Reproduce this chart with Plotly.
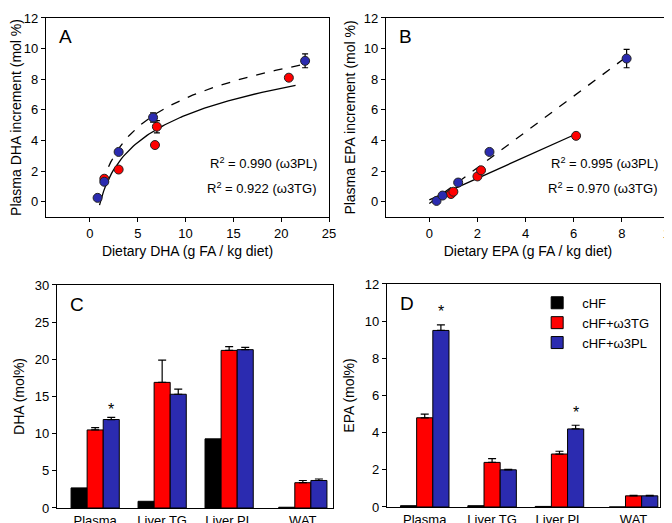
import numpy as np
import plotly.graph_objects as go

# Panel A: dietary DHA vs plasma DHA increment
dha_pl_x = [0.8, 1.5, 3.0, 6.6, 22.5]
dha_pl_y = [0.25, 1.3, 3.25, 5.5, 9.2]
dha_pl_err = [0.1, 0.15, 0.15, 0.3, 0.45]
dha_tg_x = [1.5, 3.0, 6.8, 7.0, 20.8]
dha_tg_y = [1.5, 2.1, 3.7, 4.9, 8.1]
dha_tg_err = [0.15, 0.1, 0.1, 0.4, 0.15]

# Panel B: dietary EPA vs plasma EPA increment
epa_pl_x = [0.3, 0.55, 1.2, 2.5, 8.2]
epa_pl_y = [0.05, 0.4, 1.25, 3.25, 9.35]
epa_pl_err = [0.05, 0.05, 0.1, 0.1, 0.6]
epa_tg_x = [0.9, 1.0, 2.0, 2.15, 6.1]
epa_tg_y = [0.5, 0.65, 1.65, 2.05, 4.3]
epa_tg_err = [0.05, 0.05, 0.1, 0.1, 0.1]

# Panels C and D: bars
tissues = ["Plasma", "Liver TG", "Liver PL", "WAT"]
tissue_pos = [0, 1, 2, 3.1]
dha_chf = [2.7, 0.9, 9.3, 0.1]
dha_tg = [10.5, 16.9, 21.2, 3.4]
dha_tg_se = [0.3, 3.0, 0.5, 0.3]
dha_plb = [11.9, 15.3, 21.3, 3.7]
dha_plb_se = [0.3, 0.7, 0.3, 0.2]
epa_chf = [0.07, 0.07, 0.03, 0.0]
epa_tg = [4.8, 2.4, 2.85, 0.6]
epa_tg_se = [0.2, 0.2, 0.15, 0.03]
epa_plb = [9.5, 2.0, 4.2, 0.6]
epa_plb_se = [0.3, 0.03, 0.2, 0.03]

RED = "#ff0000"
BLUE = "#2b2bb0"
FONT = "Liberation Sans, Arial, sans-serif"

fig = go.Figure()


def marker(color):
    return dict(color=color, size=9, line=dict(color="#222", width=1))


def err(vals):
    return dict(type="data", array=vals, color="black", thickness=1.2, width=3)


# A: log fits
for xs, ys, dash, x0, x1 in [(dha_pl_x, dha_pl_y, "dash", 1.3, 22.5),
                              (dha_tg_x, dha_tg_y, "solid", 1.0, 21.5)]:
    a, b = np.polyfit(np.log(xs), ys, 1)
    xf = np.linspace(x0, x1, 100)
    fig.add_trace(go.Scatter(x=xf, y=a * np.log(xf) + b, mode="lines",
                             line=dict(color="black", width=1.3, dash=dash),
                             xaxis="x", yaxis="y", showlegend=False))
fig.add_trace(go.Scatter(x=dha_tg_x, y=dha_tg_y, mode="markers", marker=marker(RED),
                         error_y=err(dha_tg_err), xaxis="x", yaxis="y", showlegend=False))
fig.add_trace(go.Scatter(x=dha_pl_x, y=dha_pl_y, mode="markers", marker=marker(BLUE),
                         error_y=err(dha_pl_err), xaxis="x", yaxis="y", showlegend=False))

# B: linear fits
for xs, ys, dash, x0, x1 in [(epa_pl_x, epa_pl_y, "dash", 0.0, 8.2),
                              (epa_tg_x, epa_tg_y, "solid", 0.0, 6.1)]:
    a, b = np.polyfit(xs, ys, 1)
    xf = np.array([x0, x1])
    fig.add_trace(go.Scatter(x=xf, y=a * xf + b, mode="lines",
                             line=dict(color="black", width=1.3, dash=dash),
                             xaxis="x2", yaxis="y2", showlegend=False))
fig.add_trace(go.Scatter(x=epa_tg_x, y=epa_tg_y, mode="markers", marker=marker(RED),
                         error_y=err(epa_tg_err), xaxis="x2", yaxis="y2", showlegend=False))
fig.add_trace(go.Scatter(x=epa_pl_x, y=epa_pl_y, mode="markers", marker=marker(BLUE),
                         error_y=err(epa_pl_err), xaxis="x2", yaxis="y2", showlegend=False))


def bar_err(vals):
    return dict(type="data", array=vals, arrayminus=[0] * len(vals),
                color="black", thickness=1.2, width=4)


for xa, ya, chf, tg, tg_se, pl, pl_se, leg in [
        ("x3", "y3", dha_chf, dha_tg, dha_tg_se, dha_plb, dha_plb_se, False),
        ("x4", "y4", epa_chf, epa_tg, epa_tg_se, epa_plb, epa_plb_se, True)]:
    fig.add_trace(go.Bar(x=tissue_pos, y=chf, name="cHF", marker=dict(color="black", line=dict(color="black", width=1)),
                         xaxis=xa, yaxis=ya, showlegend=leg, offsetgroup="a"))
    fig.add_trace(go.Bar(x=tissue_pos, y=tg, name="cHF+ω3TG", error_y=bar_err(tg_se),
                         marker=dict(color=RED, line=dict(color="black", width=1)),
                         xaxis=xa, yaxis=ya, showlegend=leg, offsetgroup="b"))
    fig.add_trace(go.Bar(x=tissue_pos, y=pl, name="cHF+ω3PL", error_y=bar_err(pl_se),
                         marker=dict(color=BLUE, line=dict(color="black", width=1)),
                         xaxis=xa, yaxis=ya, showlegend=leg, offsetgroup="c"))

axis_style = dict(showline=True, linecolor="black", linewidth=1.2, mirror=True,
                  ticks="outside", ticklen=4, tickcolor="black", showgrid=False,
                  zeroline=False, automargin=False, tickfont=dict(size=13, color="black"))
title_font = dict(size=14, color="black")

fig.update_layout(
    width=672, height=523, margin=dict(l=0, r=0, t=0, b=0),
    plot_bgcolor="white", paper_bgcolor="white",
    font=dict(family=FONT, color="black"),
    barmode="group", bargap=0.28, bargroupgap=0,
    xaxis=dict(axis_style, domain=[0.0565, 0.4777], range=[-4.6, 25], tickvals=[0, 5, 10, 15, 20, 25],
               title=dict(text="Dietary DHA (g FA / kg diet)", font=title_font, standoff=6), anchor="y"),
    yaxis=dict(axis_style, domain=[0.6004, 0.9809], range=[-1, 12], tickvals=[0, 2, 4, 6, 8, 10, 12],
               title=dict(text="Plasma DHA increment (mol %)", font=title_font, standoff=4), anchor="x"),
    xaxis2=dict(axis_style, domain=[0.5625, 0.985], range=[-1.8, 10], tickvals=[0, 2, 4, 6, 8, 10],
                title=dict(text="Dietary EPA (g FA / kg diet)", font=title_font, standoff=6), anchor="y2"),
    yaxis2=dict(axis_style, domain=[0.6004, 0.9809], range=[-1, 12], tickvals=[0, 2, 4, 6, 8, 10, 12],
                title=dict(text="Plasma EPA increment (mol %)", font=title_font, standoff=4), anchor="x2"),
    xaxis3=dict(axis_style, domain=[0.0729, 0.4836], range=[-0.57, 3.55], tickvals=tissue_pos,
                ticktext=tissues, ticks="", anchor="y3"),
    yaxis3=dict(axis_style, domain=[0.044, 0.4704], range=[0, 30], tickvals=[0, 5, 10, 15, 20, 25, 30],
                title=dict(text="DHA (mol%)", font=title_font, standoff=6), anchor="x3"),
    xaxis4=dict(axis_style, domain=[0.564, 0.970], range=[-0.56, 3.49], tickvals=tissue_pos,
                ticktext=tissues, ticks="", anchor="y4"),
    yaxis4=dict(axis_style, domain=[0.0459, 0.4723], range=[0, 12], tickvals=[0, 2, 4, 6, 8, 10, 12],
                title=dict(text="EPA (mol%)", font=title_font, standoff=6), anchor="x4"),
    legend=dict(x=0.78, y=0.465, xanchor="left", yanchor="top", bgcolor="rgba(0,0,0,0)",
                font=dict(size=13), itemwidth=40, tracegroupgap=2),
)

ann = []
for xr, yr, txt in [("x domain", "y domain", "A"), ("x2 domain", "y2 domain", "B"),
                    ("x3 domain", "y3 domain", "C"), ("x4 domain", "y4 domain", "D")]:
    ann.append(dict(xref=xr, yref=yr, x=0.04, y=0.97, text=txt, showarrow=False,
                    xanchor="left", yanchor="top", font=dict(size=19)))
for xr, yr, t1, t2 in [("x domain", "y domain", "R<sup>2</sup> = 0.990 (ω3PL)", "R<sup>2</sup> = 0.922 (ω3TG)"),
                       ("x2 domain", "y2 domain", "R<sup>2</sup> = 0.995 (ω3PL)", "R<sup>2</sup> = 0.970 (ω3TG)")]:
    ann.append(dict(xref=xr, yref=yr, x=0.965, y=0.22, text=t1, showarrow=False, xanchor="right", font=dict(size=13)))
    ann.append(dict(xref=xr, yref=yr, x=0.965, y=0.095, text=t2, showarrow=False, xanchor="right", font=dict(size=13)))
for xr, yr, x, y in [("x3", "y3", 0.24, 13.3), ("x4", "y4", 0.24, 10.5), ("x4", "y4", 2.24, 5.1)]:
    ann.append(dict(xref=xr, yref=yr, x=x, y=y, text="*", showarrow=False, font=dict(size=16)))
fig.update_layout(annotations=ann)

fig.write_html("out.html")
